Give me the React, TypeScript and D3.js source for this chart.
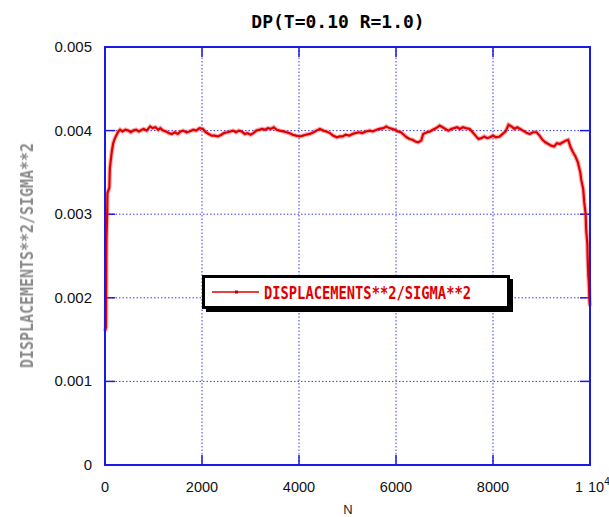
import React from "react";
import * as d3 from "d3";

const TITLE = "DP(T=0.10 R=1.0)";
const X_LABEL = "N";
const Y_LABEL = "DISPLACEMENTS**2/SIGMA**2";
const LEGEND_LABEL = "DISPLACEMENTS**2/SIGMA**2";

const yTicks = [0, 0.001, 0.002, 0.003, 0.004, 0.005];
const yTickLabels = ["0", "0.001", "0.002", "0.003", "0.004", "0.005"];
const xTicks = [0, 2000, 4000, 6000, 8000, 10000];
const xTickLabels = ["0", "2000", "4000", "6000", "8000", "1"];

const nValues = [
  0, 20, 30, 45, 50, 90, 100, 140, 170, 205, 240, 275, 310, 360, 420, 480, 530, 580, 640, 700,
  760, 800, 860, 930, 980, 1040, 1100, 1140, 1200, 1260, 1320, 1380, 1440, 1500, 1560, 1610, 1680, 1740, 1820, 1880,
  1950, 2020, 2080, 2140, 2200, 2260, 2330, 2400, 2450, 2520, 2580, 2640, 2700, 2760, 2820, 2880, 2940, 3000, 3060, 3120,
  3180, 3240, 3300, 3360, 3420, 3480, 3540, 3600, 3680, 3740, 3800, 3870, 3940, 4020, 4080, 4140, 4220, 4300, 4360, 4430,
  4500, 4560, 4640, 4700, 4780, 4840, 4900, 4960, 5040, 5100, 5160, 5240, 5300, 5380, 5460, 5520, 5600, 5660, 5740, 5800,
  5860, 5920, 5980, 6040, 6100, 6160, 6220, 6280, 6340, 6400, 6460, 6520, 6560, 6640, 6700, 6760, 6830, 6900, 6960, 7020,
  7080, 7140, 7200, 7260, 7320, 7380, 7440, 7520, 7580, 7640, 7700, 7760, 7820, 7880, 7940, 8000, 8060, 8140, 8200, 8260,
  8320, 8380, 8440, 8500, 8560, 8620, 8700, 8760, 8820, 8900, 8960, 9020, 9080, 9140, 9200, 9260, 9320, 9380, 9440, 9500,
  9550, 9600, 9650, 9700, 9750, 9800, 9820, 9860, 9880, 9910, 9920, 9945, 9950, 9966, 9975, 9990, 10000,
];

const dispValues = [
  0.00160, 0.00165, 0.00270, 0.00300, 0.00325, 0.00332, 0.00355, 0.00375, 0.00385, 0.00391, 0.00395, 0.00399, 0.00401, 0.00399, 0.00401, 0.00400, 0.00398, 0.00400, 0.00401, 0.00399,
  0.00401, 0.00402, 0.00400, 0.00405, 0.00403, 0.00404, 0.00401, 0.00403, 0.00400, 0.00399, 0.00397, 0.00396, 0.00398, 0.00396, 0.00399, 0.00400, 0.00398, 0.00399, 0.00401, 0.00400,
  0.00403, 0.00402, 0.00398, 0.00396, 0.00394, 0.00394, 0.00393, 0.00395, 0.00397, 0.00398, 0.00399, 0.00400, 0.00398, 0.00400, 0.00399, 0.00396, 0.00397, 0.00395, 0.00397, 0.00400,
  0.00401, 0.00402, 0.00401, 0.00403, 0.00402, 0.00404, 0.00401, 0.00400, 0.00399, 0.00398, 0.00397, 0.00395, 0.00394, 0.00393, 0.00394, 0.00395, 0.00396, 0.00398, 0.00400, 0.00402,
  0.00400, 0.00399, 0.00397, 0.00394, 0.00392, 0.00393, 0.00393, 0.00395, 0.00394, 0.00396, 0.00397, 0.00398, 0.00397, 0.00399, 0.00400, 0.00399, 0.00401, 0.00402, 0.00403, 0.00405,
  0.00403, 0.00402, 0.00401, 0.00399, 0.00398, 0.00395, 0.00392, 0.00390, 0.00389, 0.00387, 0.00386, 0.00388, 0.00396, 0.00398, 0.00399, 0.00401, 0.00403, 0.00406, 0.00404, 0.00402,
  0.00400, 0.00402, 0.00403, 0.00404, 0.00402, 0.00404, 0.00403, 0.00402, 0.00398, 0.00394, 0.00390, 0.00391, 0.00393, 0.00391, 0.00392, 0.00394, 0.00392, 0.00393, 0.00396, 0.00399,
  0.00407, 0.00405, 0.00402, 0.00404, 0.00402, 0.00400, 0.00397, 0.00396, 0.00398, 0.00398, 0.00394, 0.00389, 0.00386, 0.00384, 0.00382, 0.00381, 0.00385, 0.00384, 0.00386, 0.00388,
  0.00389, 0.00380, 0.00374, 0.00369, 0.00362, 0.00350, 0.00341, 0.00330, 0.00315, 0.00300, 0.00282, 0.00265, 0.00251, 0.00225, 0.00219, 0.00195, 0.00190,
];

const W = 609;
const H = 517;
const M = { left: 105, right: 19, top: 47, bottom: 52 };

export default function App() {
  const x = d3.scaleLinear().domain([0, 10000]).range([M.left, W - M.right]);
  const y = d3.scaleLinear().domain([0, 0.005]).range([H - M.bottom, M.top]);
  const data = nValues.map((n, i) => [n, dispValues[i]] as [number, number]);
  const line = d3
    .line<[number, number]>()
    .x((d) => x(d[0]))
    .y((d) => y(d[1]));
  const path = line(data) || "";

  const x0 = x(0);
  const x1 = x(10000);
  const y0 = y(0);
  const y1 = y(0.005);
  const blue = "#1a1ae6";
  const grid = "#3b3bf0";
  const tickLen = 10;
  const mono = "'DejaVu Sans Mono', monospace";
  const sans = "'Liberation Sans', Arial, sans-serif";

  return (
    <svg
      width={W}
      height={H}
      style={{ position: "absolute", left: 0, top: 0, background: "#fff" }}
    >
      <defs>
        <filter id="soft" x="-20%" y="-5%" width="140%" height="110%">
          <feGaussianBlur stdDeviation="0.6" />
        </filter>
      </defs>
      <rect x={0} y={0} width={W} height={H} fill="#fff" />
      {/* title */}
      <text
        x={338}
        y={28}
        textAnchor="middle"
        fontFamily={mono}
        fontWeight="bold"
        fontSize={18}
        fill="#000"
      >
        {TITLE}
      </text>

      {/* grid */}
      {yTicks.slice(1, -1).map((t) => (
        <line
          key={"gy" + t}
          x1={x0}
          x2={x1}
          y1={y(t)}
          y2={y(t)}
          stroke={grid}
          strokeWidth={1}
          strokeDasharray="1.5,2"
        />
      ))}
      {xTicks.slice(1, -1).map((t) => (
        <line
          key={"gx" + t}
          x1={x(t)}
          x2={x(t)}
          y1={y0}
          y2={y1}
          stroke={grid}
          strokeWidth={1}
          strokeDasharray="1.5,2"
        />
      ))}

      {/* ticks inward */}
      {yTicks.map((t) => (
        <g key={"ty" + t}>
          <line x1={x0} x2={x0 + tickLen} y1={y(t)} y2={y(t)} stroke={blue} strokeWidth={1.5} />
          <line x1={x1} x2={x1 - tickLen} y1={y(t)} y2={y(t)} stroke={blue} strokeWidth={1.5} />
        </g>
      ))}
      {xTicks.map((t) => (
        <g key={"tx" + t}>
          <line x1={x(t)} x2={x(t)} y1={y0} y2={y0 - tickLen} stroke={blue} strokeWidth={1.5} />
          <line x1={x(t)} x2={x(t)} y1={y1} y2={y1 + tickLen} stroke={blue} strokeWidth={1.5} />
        </g>
      ))}

      {/* data line */}
      <path d={path} fill="none" stroke="#f04040" strokeOpacity={0.4} strokeWidth={4.5} strokeLinejoin="miter" />
      <path d={path} fill="none" stroke="#e00000" strokeWidth={2.2} strokeLinejoin="miter" />

      {/* frame */}
      <rect
        x={x0}
        y={y1}
        width={x1 - x0}
        height={y0 - y1}
        fill="none"
        stroke={blue}
        strokeWidth={2}
      />

      {/* y tick labels */}
      {yTicks.map((t, i) => (
        <text
          key={"ly" + t}
          x={92}
          y={y(t) + 5}
          textAnchor="end"
          fontFamily={sans}
          fontSize={15}
          fill="#111"
        >
          {yTickLabels[i]}
        </text>
      ))}
      {/* x tick labels */}
      {xTicks.map((t, i) =>
        i < xTicks.length - 1 ? (
          <text
            key={"lx" + t}
            x={x(t)}
            y={492}
            textAnchor="middle"
            fontFamily={sans}
            fontSize={14.5}
            fill="#111"
          >
            {xTickLabels[i]}
          </text>
        ) : (
          <text key={"lx" + t} x={x(t) - 15} y={492} fontFamily={sans} fontSize={14.5} fill="#111">
            {xTickLabels[i]}
            <tspan dx={6}>10</tspan>
            <tspan dy={-7} fontSize={10}>
              4
            </tspan>
          </text>
        )
      )}

      {/* axis labels */}
      <text
        x={348}
        y={514}
        textAnchor="middle"
        fontFamily={sans}
        fontSize={13}
        fill="#222"
      >
        {X_LABEL}
      </text>
      <text
        transform={`translate(33, ${255.5}) rotate(-90)`}
        textAnchor="middle"
        fontFamily={mono}
        fontWeight="bold"
        fontSize={17}
        fill="#8a8a8a"
        textLength={225}
        lengthAdjust="spacingAndGlyphs"
        filter="url(#soft)"
      >
        {Y_LABEL}
      </text>

      {/* legend */}
      <rect x={206} y={279} width={307} height={33} fill="#000" />
      <rect x={203.5} y={276.5} width={305} height={31} fill="#fff" stroke="#000" strokeWidth={3} />
      <line x1={212} x2={259} y1={292} y2={292} stroke="#e00000" strokeWidth={1.5} />
      <rect x={235} y={290.5} width={3} height={3} fill="#c00000" />
      <text
        x={264}
        y={298.5}
        fontFamily={mono}
        fontWeight="bold"
        fontSize={18}
        fill="#e00000"
        textLength={207}
        lengthAdjust="spacingAndGlyphs"
      >
        {LEGEND_LABEL}
      </text>
    </svg>
  );
}
